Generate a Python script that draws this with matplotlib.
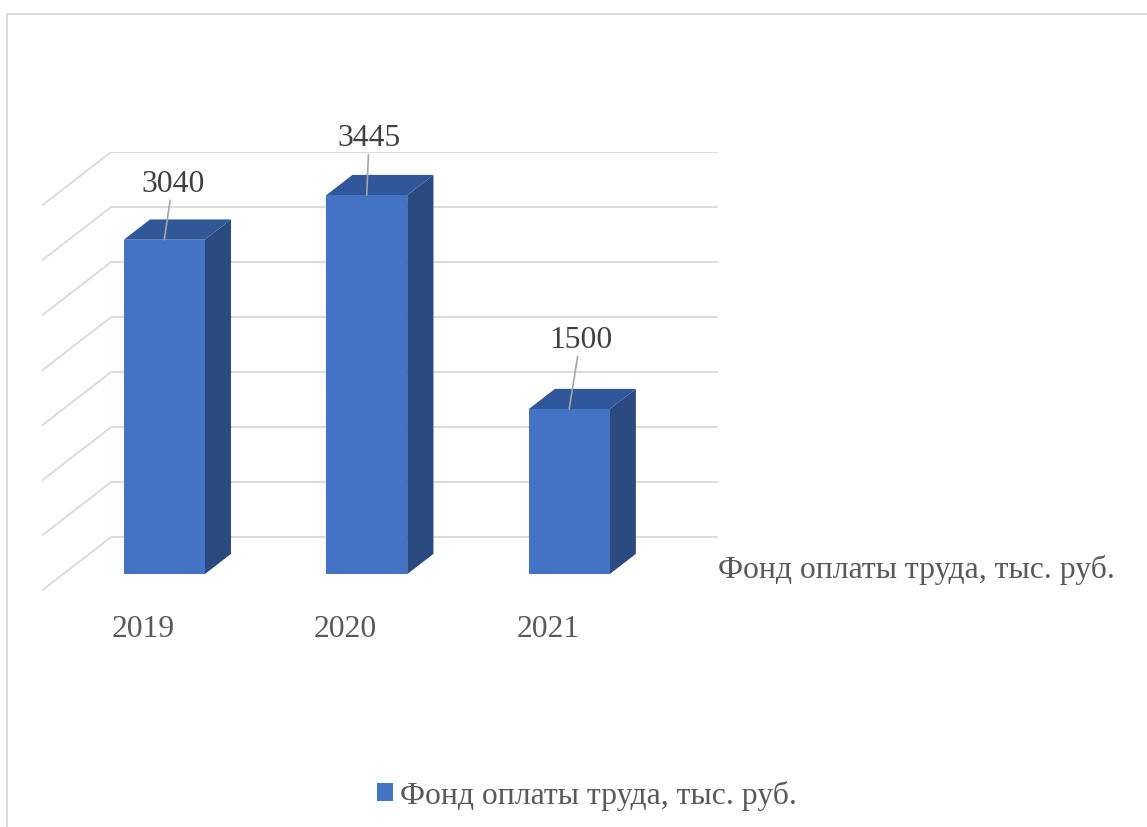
import matplotlib.pyplot as plt
from matplotlib.patches import Polygon, Patch
from matplotlib.lines import Line2D

# data
years = ["2019", "2020", "2021"]
payroll = [3040, 3445, 1500]
series_name = "Фонд оплаты труда, тыс. руб."
ticks = [0, 500, 1000, 1500, 2000, 2500, 3000, 3500]

# oblique 3d look: how far the back wall sits from the front plane
DX = 0.341      # in category units
DY = 485        # in value units
Z0, Z1 = 0.31, 0.69   # bar front / back depth
HALF = 0.2            # half bar width

FRONT = "#4472C4"
TOP = "#30579A"
SIDE = "#2A4A80"
GRID = "#d9d9d9"
FS = 22.8
W, H = 1147, 828

plt.rcParams["font.family"] = ["Liberation Serif", "DejaVu Serif"]

fig = plt.figure(figsize=(W / 100, H / 100), dpi=100)
left, right = 41.7, 718
y0, ytop = 591.7, 153.3
ax = fig.add_axes([left / W, 1 - y0 / H, (right - left) / W, (y0 - ytop) / H])
ax.set_xlim(0, len(years) + DX)
ax.set_ylim(0, ticks[-1] + DY)
ax.axis("off")

# back wall and side wall gridlines
for t in ticks:
    ax.plot([DX, len(years) + DX], [t + DY, t + DY], color=GRID, lw=1.3,
            solid_capstyle="butt", zorder=1)
    ax.plot([0, DX], [t, t + DY], color=GRID, lw=1.3, zorder=1)


def pt(x, v, z):
    return (x + z * DX, v + z * DY)


label_offsets = [(6, 40.8), (1.7, 41.4), (8.1, 50.4)]
for i, (yr, v) in enumerate(zip(years, payroll)):
    xa, xb = i + 0.5 - HALF, i + 0.5 + HALF
    front = [pt(xa, 0, Z0), pt(xb, 0, Z0), pt(xb, v, Z0), pt(xa, v, Z0)]
    top = [pt(xa, v, Z0), pt(xb, v, Z0), pt(xb, v, Z1), pt(xa, v, Z1)]
    side = [pt(xb, 0, Z0), pt(xb, 0, Z1), pt(xb, v, Z1), pt(xb, v, Z0)]
    ax.add_patch(Polygon(side, closed=True, fc=SIDE, ec="none", zorder=3))
    ax.add_patch(Polygon(top, closed=True, fc=TOP, ec="none", zorder=3))
    ax.add_patch(Polygon(front, closed=True, fc=FRONT, ec="none", zorder=4))

    # value label with leader line
    ax.annotate(str(v), xy=pt(i + 0.5, v, Z0), xytext=label_offsets[i],
                textcoords="offset points", ha="center", va="center",
                fontsize=FS, color="#404040", zorder=6,
                arrowprops=dict(arrowstyle="-", color="#a6a6a6", lw=1.2,
                                shrinkA=0, shrinkB=0))

    # category label
    ax.text(i + 0.5, -340, yr, ha="center", va="center", fontsize=FS,
            color="#595959", clip_on=False)

# depth axis (series) label
ax.text(len(years) + DX, 197, series_name, ha="left", va="center",
        fontsize=FS, color="#595959", clip_on=False)

# legend
fig.legend(handles=[Patch(facecolor=FRONT, edgecolor="none", label=series_name)],
           loc="center", bbox_to_anchor=(587 / W, 1 - 796 / H), frameon=False,
           fontsize=FS, labelcolor="#595959", handlelength=0.5, handleheight=0.5,
           handletextpad=0.25, borderpad=0)

# chart area border
fig.add_artist(Line2D([7.3 / W, 1], [1 - 14.7 / H, 1 - 14.7 / H], color=GRID, lw=1.3))
fig.add_artist(Line2D([7.3 / W, 7.3 / W], [0, 1 - 14.7 / H], color=GRID, lw=1.3))

fig.savefig("out.png", dpi=100, facecolor="white")
